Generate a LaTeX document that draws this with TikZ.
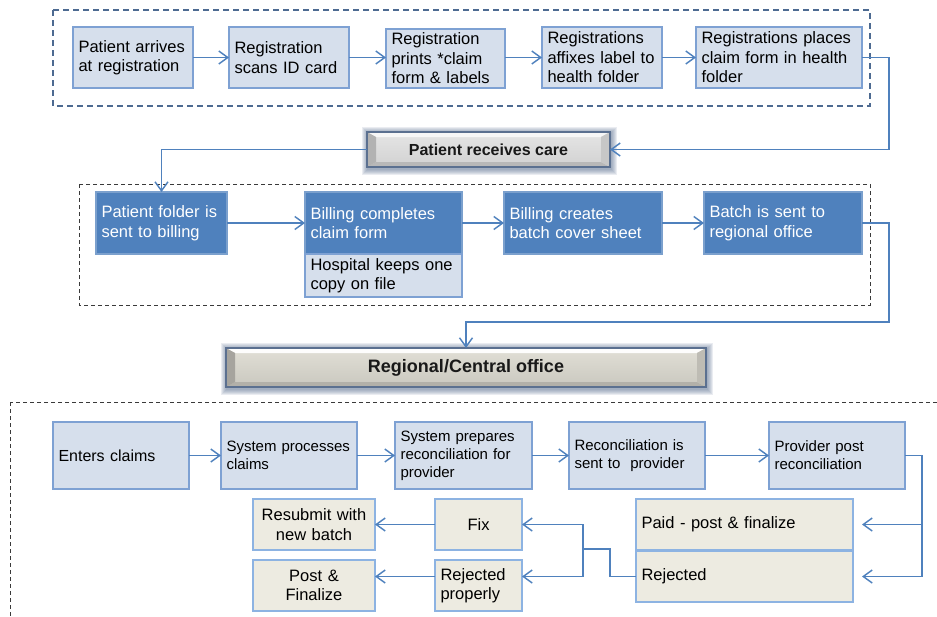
\documentclass[tikz,border=0pt]{standalone}
\usepackage{fontspec}
\setmainfont{Liberation Sans}
\usetikzlibrary{arrows.meta}

\definecolor{flowblue}{HTML}{4F81BD}
\definecolor{paleblue}{HTML}{D6DFEC}
\definecolor{paleedge}{HTML}{7EA1D3}
\definecolor{beige}{HTML}{EDEBE1}
\definecolor{beigeedge}{HTML}{8DB3E2}
\definecolor{groupblue}{HTML}{4D6A91}
\definecolor{groupgray}{HTML}{3A3A3A}
\definecolor{bannerline}{HTML}{5B7090}

\tikzset{
  box/.style={draw, line width=1.2pt, inner xsep=5.5pt, inner ysep=0pt, outer sep=0pt,
    align=left, font=\fontsize{16.5}{19.5}\selectfont},
  lightbox/.style={box, fill=paleblue, draw=paleedge, text=black},
  bluebox/.style={box, fill=flowblue, draw=flowblue!75!white, text=white},
  tanbox/.style={box, fill=beige, draw=beigeedge, text=black},
  smalltext/.style={font=\fontsize{15}{18}\selectfont},
  link/.style={draw=flowblue, line width=1.45pt},
  arr/.style={link, -{Straight Barb[length=9pt,width=13pt]}},
  topgroup/.style={draw=groupblue, line width=1.2pt, dash pattern=on 6pt off 4pt},
  lowgroup/.style={draw=groupgray, line width=1pt, dash pattern=on 4pt off 3pt},
  plate/.style={draw=bannerline, line width=1.6pt, inner sep=0pt, outer sep=0pt,
    text=black!90},
}

% bevelled plate behind a banner: x1 y1 x2 y2, centre shading, top, bottom, left, right facets
\newcommand\bevelplate[9]{%
  \foreach \g in {6,5,4,3,2,1}{
    \fill[bannerline, opacity=0.13] (#1-\g+1,#2-\g+1) rectangle (#3+\g+1,#4+\g+1.5);
  }
  \shade[#5] (#1,#2) rectangle (#3,#4);
  \fill[#6] (#1,#2) -- (#3,#2) -- (#3-9,#2+5) -- (#1+9,#2+5) -- cycle;
  \fill[#7] (#1,#4) -- (#3,#4) -- (#3-9,#4-5) -- (#1+9,#4-5) -- cycle;
  \fill[#8] (#1,#2) -- (#1+9,#2+5) -- (#1+9,#4-5) -- (#1,#4) -- cycle;
  \fill[#9] (#3,#2) -- (#3-9,#2+5) -- (#3-9,#4-5) -- (#3,#4) -- cycle;
}

\begin{document}
\begin{tikzpicture}[x=1pt, y=-1pt]
\useasboundingbox (0,0) rectangle (937,616);

% group frames
\draw[topgroup] (53,10) rectangle (870,106);
\draw[lowgroup] (79,184) rectangle (870,305);
\begin{scope}
  \clip (0,0) rectangle (937,616);
  \draw[lowgroup] (10,402) rectangle (960,640);
\end{scope}

% registration steps
\node[lightbox, text width=109pt, minimum height=61pt] (a1) at (133,57.5) {Patient arrives\\at registration};
\node[lightbox, text width=109pt, minimum height=61pt] (a2) at (289,57.5) {Registration\\scans ID card};
\node[lightbox, text width=108pt, minimum height=59pt] (a3) at (445.5,58.5) {Registration\\prints *claim\\form \& labels};
\node[lightbox, text width=109pt, minimum height=61pt] (a4) at (602,57.5) {Registrations\\affixes label to\\health folder};
\node[lightbox, text width=155pt, minimum height=61pt] (a5) at (779,57.5) {Registrations places\\claim form in health\\folder};

% banners
\bevelplate{367}{132}{610}{167}{bottom color=black!18, top color=black!10}{black!3}{black!28}{black!30}{black!22}
\node[plate, minimum width=243pt, minimum height=35pt, font=\bfseries\fontsize{16}{19}\selectfont] (p1) at (488.5,149.5) {Patient receives care};

\bevelplate{226}{348}{706}{387}{bottom color=beige!85!black, top color=beige!95!black}{white!90!beige}{beige!75!black}{beige!70!black}{beige!80!black}
\node[plate, minimum width=480pt, minimum height=39pt, font=\bfseries\fontsize{18}{21}\selectfont] (p2) at (466,367.5) {Regional/Central office};

% billing steps
\node[bluebox, text width=120pt, minimum height=62pt] (b1) at (161.5,223) {Patient folder is\\sent to billing};
\node[bluebox, text width=146pt, minimum height=62pt] (b2) at (383.5,223) {Billing completes\\claim form};
\node[lightbox, text width=146pt, minimum height=43pt] (b2n) at (383.5,275.5) {Hospital keeps one\\copy on file};
\node[bluebox, text width=147pt, minimum height=62pt] (b3) at (583,223) {Billing creates\\batch cover sheet};
\node[bluebox, text width=147pt, minimum height=62pt] (b4) at (783,223) {Batch is sent to\\regional office};

% office steps
\node[lightbox, text width=125pt, minimum height=67pt, font=\fontsize{16}{19}\selectfont] (c1) at (121,455.5) {Enters claims};
\node[lightbox, smalltext, text width=125pt, minimum height=67pt] (c2) at (289,455.5) {System processes\\claims};
\node[lightbox, smalltext, text width=126pt, minimum height=67pt] (c3) at (463.5,455.5) {System prepares\\reconciliation for\\provider};
\node[lightbox, smalltext, text width=125pt, minimum height=67pt] (c4) at (637,455.5) {Reconciliation is\\sent to\ \ provider};
\node[lightbox, smalltext, text width=125pt, minimum height=67pt] (c5) at (837,455.5) {Provider post\\reconciliation};

% outcomes
\node[tanbox, text width=206pt, minimum height=51pt] (paid) at (744.5,524.5) {Paid - post \& finalize};
\node[tanbox, text width=206pt, minimum height=51pt] (rej) at (744.5,576.5) {Rejected};
\node[tanbox, text width=76pt, minimum height=51pt, align=center] (fix) at (478.5,524.5) {Fix};
\node[tanbox, text width=76pt, minimum height=51pt] (rejp) at (478.5,585.5) {Rejected\\properly};
\node[tanbox, text width=111pt, minimum height=51pt, align=center] (resub) at (314,524.5) {Resubmit with\\new batch};
\node[tanbox, text width=111pt, minimum height=51pt, align=center] (postf) at (314,585.5) {Post \&\\Finalize};

% connectors
\draw[arr] (a1.east) -- (a2.west);
\draw[arr] (a2.east) -- (a2.east -| a3.west);
\draw[arr] (a3.east |- a2.east) -- (a4.west);
\draw[arr] (a4.east) -- (a5.west);
\draw[arr] (a5.east) -- ++(27,0) |- (p1.east);
\draw[arr] (p1.west) -| (b1.north);

\draw[arr] (b1.east) -- (b2.west);
\draw[arr] (b2.east) -- (b3.west);
\draw[arr] (b3.east) -- (b4.west);
\draw[arr] (b4.east) -- ++(27,0) -- ++(0,99) -| (p2.north);

\draw[arr] (c1.east) -- (c2.west);
\draw[arr] (c2.east) -- (c3.west);
\draw[arr] (c3.east) -- (c4.west);
\draw[arr] (c4.east) -- (c5.west);
\draw[arr, shorten >=9pt] (c5.east) -- ++(17,0) |- (paid.east);
\draw[arr, shorten >=9pt] (c5.east) -- ++(17,0) |- (rej.east);

\coordinate (split) at (583,549);
\draw[link] (rej.west) -- ++(-26,0) |- (split);
\draw[arr] (split) |- (fix.east);
\draw[arr] (split) |- (rejp.east |- rej.west);
\draw[arr] (fix.west) -- (resub.east);
\draw[arr] (rejp.west |- rej.west) -- (postf.east |- rej.west);
\end{tikzpicture}
\end{document}
